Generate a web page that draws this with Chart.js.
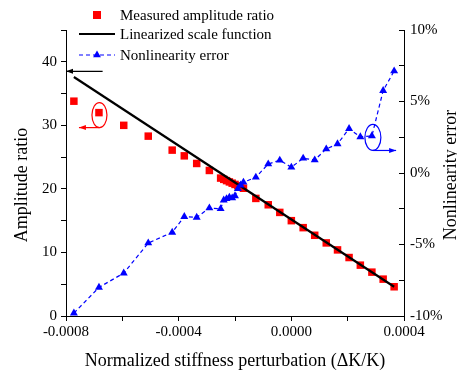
<!DOCTYPE html>
<html>
<head>
<meta charset="utf-8">
<script src="https://cdn.jsdelivr.net/npm/chart.js@4.4.0/dist/chart.umd.min.js"></script>
<style>
  html, body { margin: 0; padding: 0; background: #fff; }
  canvas { display: block; }
</style>
</head>
<body>
<canvas id="chart" width="457" height="376"></canvas>
<script>
// normalized stiffness perturbation (dK/K) for each measurement
const perturbation = [
  -0.000772, -0.000683, -0.000595, -0.000508, -0.000423, -0.00038, -0.000336, -0.000291,
  -0.000251, -0.00024, -0.00023, -0.00022, -0.00021, -0.0002, -0.00019, -0.00018, -0.00017,
  -0.000126, -0.000082, -0.000041, 0.0, 0.000042, 0.000083, 0.000124, 0.000164,
  0.000205, 0.000245, 0.000286, 0.000326, 0.000365
];
const amplitudeRatio = [
  33.8, 32.0, 30.0, 28.3, 26.1, 25.2, 24.0, 22.9,
  21.7, 21.5, 21.3, 21.1, 20.9, 20.7, 20.5, 20.3, 20.1,
  18.5, 17.5, 16.3, 15.0, 13.9, 12.7, 11.5, 10.4,
  9.2, 8.0, 6.9, 5.8, 4.6
];
const nonlinearityError = [
  -9.8, -8.0, -7.0, -4.9, -4.15, -3.05, -3.1, -2.45,
  -2.5, -1.9, -1.8, -1.7, -1.75, -1.6, -1.1, -0.85, -0.65,
  -0.3, 0.63, 0.89, 0.4, 1.03, 0.91, 1.68, 2.03,
  3.1, 2.52, 2.59, 5.76, 7.13
];
// linearized scale function end points
const fitX = [-0.000772, 0.000365];
const fitY = [37.6, 4.6];

const seriesNames = ['Measured amplitude ratio', 'Linearized scale function', 'Nonlinearity error'];
const xTitle = 'Normalized stiffness perturbation (\u0394K/K)';
const yLeftTitle = 'Amplitude ratio';
const yRightTitle = 'Nonlinearity error';

const FONT = "'Liberation Serif', 'Times New Roman', serif";
Chart.defaults.font.family = FONT;
Chart.defaults.color = '#000';

const zip = (xs, ys) => xs.map((x, i) => ({ x: x, y: ys[i] }));

// legend + y titles + the little arrows/ellipses, drawn on top
const decorations = {
  id: 'decorations',
  afterDraw(chart) {
    const ctx = chart.ctx;
    const area = chart.chartArea;
    const sx = chart.scales.x, sl = chart.scales.y, sr = chart.scales.y1;
    ctx.save();

    // y axis titles (both read bottom to top)
    ctx.fillStyle = '#000';
    ctx.font = '18px ' + FONT;
    ctx.textAlign = 'center';
    ctx.textBaseline = 'middle';
    ctx.save();
    ctx.translate(22, 185);
    ctx.rotate(-Math.PI / 2);
    ctx.fillText(yLeftTitle, 0, 0);
    ctx.restore();
    ctx.save();
    ctx.translate(451, 175);
    ctx.rotate(-Math.PI / 2);
    ctx.fillText(yRightTitle, 0, 0);
    ctx.restore();

    // legend
    const ds = chart.data.datasets;
    const lx = area.left + 13, lw = 36, tx = area.left + 54;
    const rows = [15, 34, 55];
    ctx.font = '15px ' + FONT;
    ctx.textAlign = 'left';
    ds.forEach((d, i) => {
      const y = rows[i];
      if (i === 0) {
        ctx.fillStyle = d.backgroundColor;
        ctx.fillRect(lx + lw / 2 - 4, y - 4, 8, 8);
      } else {
        ctx.strokeStyle = d.borderColor;
        ctx.lineWidth = d.borderWidth;
        ctx.setLineDash(d.borderDash || []);
        ctx.beginPath();
        ctx.moveTo(lx, y);
        ctx.lineTo(lx + lw, y);
        ctx.stroke();
        ctx.setLineDash([]);
        if (d.pointStyle === 'triangle') {
          ctx.fillStyle = d.pointBackgroundColor;
          const r = 4.5, cx = lx + lw / 2;
          ctx.beginPath();
          ctx.moveTo(cx, y - r);
          ctx.lineTo(cx + r * 0.866, y + r / 2);
          ctx.lineTo(cx - r * 0.866, y + r / 2);
          ctx.closePath();
          ctx.fill();
        }
      }
      ctx.fillStyle = '#000';
      ctx.fillText(d.label, tx, y + 1);
    });

    const arrow = (x1, y1, x2, y2, color) => {
      ctx.strokeStyle = color;
      ctx.fillStyle = color;
      ctx.lineWidth = 1.2;
      ctx.beginPath();
      ctx.moveTo(x1, y1);
      ctx.lineTo(x2, y2);
      ctx.stroke();
      const dir = Math.sign(x2 - x1);
      ctx.beginPath();
      ctx.moveTo(x2, y2);
      ctx.lineTo(x2 - dir * 7, y2 - 2.5);
      ctx.lineTo(x2 - dir * 7, y2 + 2.5);
      ctx.closePath();
      ctx.fill();
    };
    const ellipse = (cx, cy, rx, ry, color) => {
      ctx.strokeStyle = color;
      ctx.lineWidth = 1.2;
      ctx.beginPath();
      ctx.ellipse(cx, cy, rx, ry, 0, 0, Math.PI * 2);
      ctx.stroke();
    };

    // black arrow: the fit line belongs to the left axis
    arrow(sx.getPixelForValue(-0.00067), sl.getPixelForValue(38.5),
          sx.getPixelForValue(-0.0008), sl.getPixelForValue(38.5), '#000');

    // red ellipse around a measured point, arrow pointing to left axis
    const rx0 = sx.getPixelForValue(perturbation[1]);
    const ry0 = sl.getPixelForValue(amplitudeRatio[1]);
    ellipse(rx0 + 0.5, ry0 + 2.5, 7.5, 12.5, '#ff0000');
    arrow(rx0 + 0.5, ry0 + 15, sx.getPixelForValue(-0.000754), ry0 + 15, '#ff0000');

    // blue ellipse around an error point, arrow pointing to right axis
    const bx0 = sx.getPixelForValue(perturbation[27]);
    const by0 = sr.getPixelForValue(nonlinearityError[27]);
    ellipse(bx0 + 1, by0 + 1.5, 8, 13, '#0000ff');
    arrow(bx0 + 1, by0 + 14.5, sx.getPixelForValue(0.000372), by0 + 14.5, '#0000ff');

    ctx.restore();
  }
};

new Chart(document.getElementById('chart'), {
  type: 'scatter',
  data: {
    datasets: [
      {
        label: seriesNames[0],
        data: zip(perturbation, amplitudeRatio),
        yAxisID: 'y',
        pointStyle: 'rect',
        pointRadius: 5.3,
        backgroundColor: '#ff0000',
        borderColor: '#ff0000',
        borderWidth: 0,
        showLine: false,
        order: 3
      },
      {
        label: seriesNames[1],
        data: zip(fitX, fitY),
        yAxisID: 'y',
        showLine: true,
        borderColor: '#000000',
        backgroundColor: '#000000',
        borderWidth: 2.2,
        pointRadius: 0,
        order: 2
      },
      {
        label: seriesNames[2],
        data: zip(perturbation, nonlinearityError),
        yAxisID: 'y1',
        showLine: true,
        borderColor: '#0000ff',
        borderWidth: 1.2,
        borderDash: [4, 3],
        pointStyle: 'triangle',
        pointRadius: 4.6,
        pointBackgroundColor: '#0000ff',
        pointBorderColor: '#0000ff',
        pointBorderWidth: 0,
        order: 1
      }
    ]
  },
  options: {
    responsive: false,
    animation: false,
    devicePixelRatio: 1,
    layout: { padding: { top: 30, left: 0, right: 0, bottom: 0 } },
    plugins: {
      legend: { display: false },
      tooltip: { enabled: false }
    },
    scales: {
      x: {
        type: 'linear',
        min: -0.0008,
        max: 0.0004,
        afterFit: s => { s.height = 60; },
        border: { display: true, color: '#000', width: 1 },
        grid: { drawOnChartArea: false, drawTicks: true, tickLength: 5, color: '#000' },
        ticks: {
          stepSize: 0.0002,
          padding: 2,
          color: '#000',
          font: { family: FONT, size: 15 },
          maxRotation: 0,
          autoSkip: false,
          callback: v => (Math.abs(Math.round(v / 0.0002)) % 2 === 0 ? v.toFixed(4) : '')
        },
        title: {
          display: true,
          text: xTitle,
          color: '#000',
          font: { family: FONT, size: 18 },
          padding: { top: 4, bottom: 4 }
        }
      },
      y: {
        position: 'left',
        min: 0,
        max: 45,
        afterFit: s => { s.width = 66; },
        border: { display: true, color: '#000', width: 1 },
        grid: { drawOnChartArea: false, drawTicks: true, tickLength: 5, color: '#000' },
        ticks: {
          stepSize: 5,
          padding: 4,
          color: '#000',
          font: { family: FONT, size: 15 },
          autoSkip: false,
          callback: v => (v % 10 === 0 ? String(v) : '')
        }
      },
      y1: {
        position: 'right',
        min: -10,
        max: 10,
        afterFit: s => { s.width = 53; },
        border: { display: true, color: '#000', width: 1 },
        grid: { drawOnChartArea: false, drawTicks: true, tickLength: -5, color: '#000' },
        ticks: {
          stepSize: 2.5,
          padding: 11,
          color: '#000',
          font: { family: FONT, size: 15 },
          autoSkip: false,
          callback: v => (v % 5 === 0 ? v + '%' : '')
        }
      }
    }
  },
  plugins: [decorations]
});
</script>
</body>
</html>
